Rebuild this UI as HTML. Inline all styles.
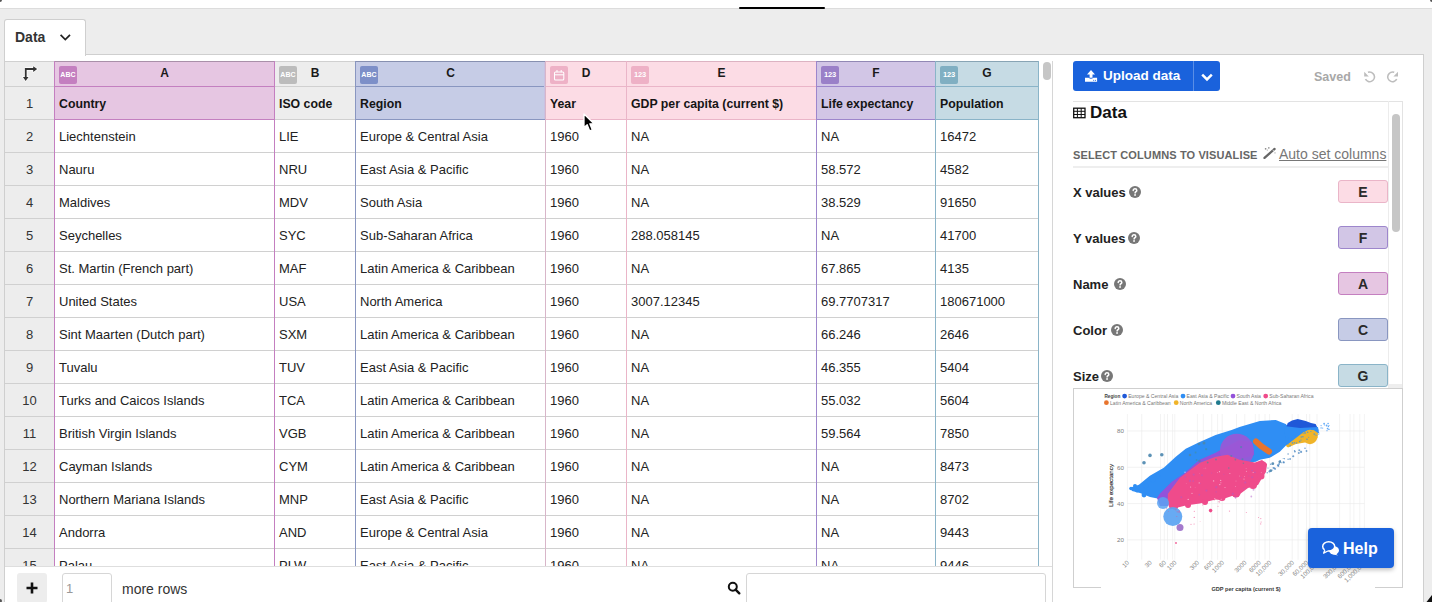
<!DOCTYPE html><html><head><meta charset="utf-8"><style>
html,body{margin:0;padding:0;}
body{width:1432px;height:602px;overflow:hidden;position:relative;background:#ededed;font-family:"Liberation Sans",sans-serif;}
.t{position:absolute;white-space:nowrap;}
.ic{position:absolute;width:18px;height:18px;border-radius:2px;color:#fff;font-size:7px;font-weight:700;text-align:center;line-height:18px;letter-spacing:0.1px;}
</style></head><body>
<div style="position:absolute;left:0px;top:0px;width:1432px;height:8px;background:#fff;"></div>
<div style="position:absolute;left:0px;top:8px;width:1432px;height:1px;background:#dcdcdc;"></div>
<div style="position:absolute;left:739px;top:7px;width:86px;height:2px;background:#000;border-radius:1px;"></div>
<div style="position:absolute;left:4px;top:54px;width:1420px;height:548px;background:#fff;box-sizing:border-box;border:1px solid #cfcfcf;border-bottom:none;"></div>
<div style="position:absolute;left:4px;top:19px;width:82px;height:37px;background:#fff;box-sizing:border-box;border:1px solid #cfcfcf;border-bottom:none;border-radius:3px 3px 0 0;"></div>
<div class="t" style="left:15px;top:19px;height:36px;line-height:36px;font-size:14px;font-weight:700;color:#333;">Data</div>
<svg style="position:absolute;left:58px;top:31px" width="14" height="12" viewBox="0 0 14 12"><path d="M2.6 3.8 L7.3 8.6 L12 3.8" fill="none" stroke="#222" stroke-width="1.7"/></svg>
<div style="position:absolute;left:5px;top:61px;width:49px;height:505px;background:#ededed;"></div>
<div style="position:absolute;left:54px;top:61px;width:220px;height:58px;background:#e6c6e2;"></div>
<div style="position:absolute;left:274px;top:61px;width:81px;height:58px;background:#ededed;"></div>
<div style="position:absolute;left:355px;top:61px;width:190px;height:58px;background:#c6cce6;"></div>
<div style="position:absolute;left:545px;top:61px;width:81px;height:58px;background:#fcdce5;"></div>
<div style="position:absolute;left:626px;top:61px;width:190px;height:58px;background:#fcdce5;"></div>
<div style="position:absolute;left:816px;top:61px;width:119px;height:58px;background:#d2c6e6;"></div>
<div style="position:absolute;left:935px;top:61px;width:103px;height:58px;background:#c6dbe4;"></div>
<div style="position:absolute;left:54px;top:119px;width:984px;height:447px;background:#fff;"></div>
<div style="position:absolute;left:5px;top:61px;width:1034px;height:1px;background:#d0d0d0;"></div>
<div style="position:absolute;left:5px;top:86px;width:1034px;height:1px;background:#d0d0d0;"></div>
<div style="position:absolute;left:5px;top:119px;width:1034px;height:1px;background:#d0d0d0;"></div>
<div style="position:absolute;left:5px;top:152px;width:1034px;height:1px;background:#d0d0d0;"></div>
<div style="position:absolute;left:5px;top:185px;width:1034px;height:1px;background:#d0d0d0;"></div>
<div style="position:absolute;left:5px;top:218px;width:1034px;height:1px;background:#d0d0d0;"></div>
<div style="position:absolute;left:5px;top:251px;width:1034px;height:1px;background:#d0d0d0;"></div>
<div style="position:absolute;left:5px;top:284px;width:1034px;height:1px;background:#d0d0d0;"></div>
<div style="position:absolute;left:5px;top:317px;width:1034px;height:1px;background:#d0d0d0;"></div>
<div style="position:absolute;left:5px;top:350px;width:1034px;height:1px;background:#d0d0d0;"></div>
<div style="position:absolute;left:5px;top:383px;width:1034px;height:1px;background:#d0d0d0;"></div>
<div style="position:absolute;left:5px;top:416px;width:1034px;height:1px;background:#d0d0d0;"></div>
<div style="position:absolute;left:5px;top:449px;width:1034px;height:1px;background:#d0d0d0;"></div>
<div style="position:absolute;left:5px;top:482px;width:1034px;height:1px;background:#d0d0d0;"></div>
<div style="position:absolute;left:5px;top:515px;width:1034px;height:1px;background:#d0d0d0;"></div>
<div style="position:absolute;left:5px;top:548px;width:1034px;height:1px;background:#d0d0d0;"></div>
<div style="position:absolute;left:54px;top:61px;width:221px;height:1px;background:#a990a9;"></div>
<div style="position:absolute;left:54px;top:86px;width:221px;height:1px;background:#c47fc0;"></div>
<div style="position:absolute;left:54px;top:119px;width:221px;height:1px;background:#c47fc0;"></div>
<div style="position:absolute;left:355px;top:61px;width:191px;height:1px;background:#8790b0;"></div>
<div style="position:absolute;left:355px;top:86px;width:191px;height:1px;background:#8996c0;"></div>
<div style="position:absolute;left:355px;top:119px;width:191px;height:1px;background:#8996c0;"></div>
<div style="position:absolute;left:545px;top:61px;width:82px;height:1px;background:#dcb3c2;"></div>
<div style="position:absolute;left:545px;top:86px;width:82px;height:1px;background:#eab5c8;"></div>
<div style="position:absolute;left:545px;top:119px;width:82px;height:1px;background:#eab5c8;"></div>
<div style="position:absolute;left:626px;top:61px;width:191px;height:1px;background:#dcb3c2;"></div>
<div style="position:absolute;left:626px;top:86px;width:191px;height:1px;background:#eab5c8;"></div>
<div style="position:absolute;left:626px;top:119px;width:191px;height:1px;background:#eab5c8;"></div>
<div style="position:absolute;left:816px;top:61px;width:120px;height:1px;background:#9188b4;"></div>
<div style="position:absolute;left:816px;top:86px;width:120px;height:1px;background:#9d86cc;"></div>
<div style="position:absolute;left:816px;top:119px;width:120px;height:1px;background:#9d86cc;"></div>
<div style="position:absolute;left:935px;top:61px;width:104px;height:1px;background:#88a4b4;"></div>
<div style="position:absolute;left:935px;top:86px;width:104px;height:1px;background:#8ab4c8;"></div>
<div style="position:absolute;left:935px;top:119px;width:104px;height:1px;background:#8ab4c8;"></div>
<div style="position:absolute;left:4px;top:61px;width:1px;height:505px;background:#cfcfcf;"></div>
<div style="position:absolute;left:54px;top:61px;width:1px;height:505px;background:#c47fc0;"></div>
<div style="position:absolute;left:274px;top:61px;width:1px;height:505px;background:#c47fc0;"></div>
<div style="position:absolute;left:355px;top:61px;width:1px;height:505px;background:#8996c0;"></div>
<div style="position:absolute;left:545px;top:61px;width:1px;height:505px;background:#d8b6c9;"></div>
<div style="position:absolute;left:626px;top:61px;width:1px;height:505px;background:#eab5c8;"></div>
<div style="position:absolute;left:816px;top:61px;width:1px;height:505px;background:#9d86cc;"></div>
<div style="position:absolute;left:935px;top:61px;width:1px;height:505px;background:#8ab4c8;"></div>
<div style="position:absolute;left:1038px;top:61px;width:1px;height:505px;background:#8ab4c8;"></div>
<div style="position:absolute;left:544px;top:62px;width:1px;height:57px;background:#c9c1e2;"></div>
<div class="t" style="left:55px;width:219px;top:61px;height:24px;line-height:24px;text-align:center;font-size:12px;font-weight:700;color:#1a1a1a;">A</div>
<div class="ic" style="left:59px;top:66px;background:#c47fc0;">ABC</div>
<div class="t" style="left:59px;top:88px;height:33px;line-height:33px;font-size:12.3px;font-weight:700;color:#151515;letter-spacing:0px;">Country</div>
<div class="t" style="left:275px;width:80px;top:61px;height:24px;line-height:24px;text-align:center;font-size:12px;font-weight:700;color:#1a1a1a;">B</div>
<div class="ic" style="left:279px;top:66px;background:#bcbcbc;">ABC</div>
<div class="t" style="left:279px;top:88px;height:33px;line-height:33px;font-size:12.3px;font-weight:700;color:#151515;letter-spacing:0px;">ISO code</div>
<div class="t" style="left:356px;width:189px;top:61px;height:24px;line-height:24px;text-align:center;font-size:12px;font-weight:700;color:#1a1a1a;">C</div>
<div class="ic" style="left:360px;top:66px;background:#7d8fc8;">ABC</div>
<div class="t" style="left:360px;top:88px;height:33px;line-height:33px;font-size:12.3px;font-weight:700;color:#151515;letter-spacing:0px;">Region</div>
<div class="t" style="left:546px;width:80px;top:61px;height:24px;line-height:24px;text-align:center;font-size:12px;font-weight:700;color:#1a1a1a;">D</div>
<div class="ic" style="left:550px;top:66px;background:#eeb1c6;"><svg width="18" height="18" viewBox="0 0 18 18" style="position:absolute;left:0;top:0"><rect x="4.5" y="5.9" width="9.3" height="8" rx="1" fill="none" stroke="#fff" stroke-width="1.05"/><line x1="4.5" y1="8.8" x2="13.8" y2="8.8" stroke="#fff" stroke-width="1.05"/><line x1="7" y1="4" x2="7" y2="6.2" stroke="#fff" stroke-width="1.05"/><line x1="11.2" y1="4" x2="11.2" y2="6.2" stroke="#fff" stroke-width="1.05"/></svg></div>
<div class="t" style="left:550px;top:88px;height:33px;line-height:33px;font-size:12.3px;font-weight:700;color:#151515;letter-spacing:0px;">Year</div>
<div class="t" style="left:627px;width:189px;top:61px;height:24px;line-height:24px;text-align:center;font-size:12px;font-weight:700;color:#1a1a1a;">E</div>
<div class="ic" style="left:631px;top:66px;background:#eeb1c6;font-size:7.5px;letter-spacing:-0.1px;">123</div>
<div class="t" style="left:631px;top:88px;height:33px;line-height:33px;font-size:12.3px;font-weight:700;color:#151515;letter-spacing:0px;">GDP per capita (current $)</div>
<div class="t" style="left:817px;width:118px;top:61px;height:24px;line-height:24px;text-align:center;font-size:12px;font-weight:700;color:#1a1a1a;">F</div>
<div class="ic" style="left:821px;top:66px;background:#9a80c8;font-size:7.5px;letter-spacing:-0.1px;">123</div>
<div class="t" style="left:821px;top:88px;height:33px;line-height:33px;font-size:12.3px;font-weight:700;color:#151515;letter-spacing:0px;">Life expectancy</div>
<div class="t" style="left:936px;width:102px;top:61px;height:24px;line-height:24px;text-align:center;font-size:12px;font-weight:700;color:#1a1a1a;">G</div>
<div class="ic" style="left:940px;top:66px;background:#80afc2;font-size:7.5px;letter-spacing:-0.1px;">123</div>
<div class="t" style="left:940px;top:88px;height:33px;line-height:33px;font-size:12.3px;font-weight:700;color:#151515;letter-spacing:0px;">Population</div>
<svg style="position:absolute;left:20px;top:63px" width="20" height="20" viewBox="0 0 20 20"><g stroke="#fff" stroke-width="1.6" stroke-linejoin="round" opacity="0.9"><path d="M5.75 15 V6 H14" fill="none" stroke-width="3.4"/><path d="M2.9 13.9 L5.7 17.9 L8.5 13.9 Z" fill="#fff"/><path d="M13.2 3.3 L17.2 6 L13.2 8.9 Z" fill="#fff"/></g><path d="M5.75 15 V6 H14" fill="none" stroke="#333" stroke-width="1.8"/><path d="M2.9 13.9 L5.7 17.9 L8.5 13.9 Z" fill="#333"/><path d="M13.2 3.3 L17.2 6 L13.2 8.9 Z" fill="#333"/></svg>
<div class="t" style="left:5px;top:87px;height:33px;line-height:33px;font-size:13px;font-weight:400;color:#333;width:49px;text-align:center;">1</div>
<div class="t" style="left:5px;top:120px;height:33px;line-height:33px;font-size:13px;font-weight:400;color:#333;width:49px;text-align:center;">2</div>
<div class="t" style="left:59px;top:120px;height:33px;line-height:33px;font-size:13px;font-weight:400;color:#222;">Liechtenstein</div>
<div class="t" style="left:279px;top:120px;height:33px;line-height:33px;font-size:13px;font-weight:400;color:#222;">LIE</div>
<div class="t" style="left:360px;top:120px;height:33px;line-height:33px;font-size:13px;font-weight:400;color:#222;">Europe &amp; Central Asia</div>
<div class="t" style="left:550px;top:120px;height:33px;line-height:33px;font-size:13px;font-weight:400;color:#222;">1960</div>
<div class="t" style="left:631px;top:120px;height:33px;line-height:33px;font-size:13px;font-weight:400;color:#222;">NA</div>
<div class="t" style="left:821px;top:120px;height:33px;line-height:33px;font-size:13px;font-weight:400;color:#222;">NA</div>
<div class="t" style="left:940px;top:120px;height:33px;line-height:33px;font-size:13px;font-weight:400;color:#222;">16472</div>
<div class="t" style="left:5px;top:153px;height:33px;line-height:33px;font-size:13px;font-weight:400;color:#333;width:49px;text-align:center;">3</div>
<div class="t" style="left:59px;top:153px;height:33px;line-height:33px;font-size:13px;font-weight:400;color:#222;">Nauru</div>
<div class="t" style="left:279px;top:153px;height:33px;line-height:33px;font-size:13px;font-weight:400;color:#222;">NRU</div>
<div class="t" style="left:360px;top:153px;height:33px;line-height:33px;font-size:13px;font-weight:400;color:#222;">East Asia &amp; Pacific</div>
<div class="t" style="left:550px;top:153px;height:33px;line-height:33px;font-size:13px;font-weight:400;color:#222;">1960</div>
<div class="t" style="left:631px;top:153px;height:33px;line-height:33px;font-size:13px;font-weight:400;color:#222;">NA</div>
<div class="t" style="left:821px;top:153px;height:33px;line-height:33px;font-size:13px;font-weight:400;color:#222;">58.572</div>
<div class="t" style="left:940px;top:153px;height:33px;line-height:33px;font-size:13px;font-weight:400;color:#222;">4582</div>
<div class="t" style="left:5px;top:186px;height:33px;line-height:33px;font-size:13px;font-weight:400;color:#333;width:49px;text-align:center;">4</div>
<div class="t" style="left:59px;top:186px;height:33px;line-height:33px;font-size:13px;font-weight:400;color:#222;">Maldives</div>
<div class="t" style="left:279px;top:186px;height:33px;line-height:33px;font-size:13px;font-weight:400;color:#222;">MDV</div>
<div class="t" style="left:360px;top:186px;height:33px;line-height:33px;font-size:13px;font-weight:400;color:#222;">South Asia</div>
<div class="t" style="left:550px;top:186px;height:33px;line-height:33px;font-size:13px;font-weight:400;color:#222;">1960</div>
<div class="t" style="left:631px;top:186px;height:33px;line-height:33px;font-size:13px;font-weight:400;color:#222;">NA</div>
<div class="t" style="left:821px;top:186px;height:33px;line-height:33px;font-size:13px;font-weight:400;color:#222;">38.529</div>
<div class="t" style="left:940px;top:186px;height:33px;line-height:33px;font-size:13px;font-weight:400;color:#222;">91650</div>
<div class="t" style="left:5px;top:219px;height:33px;line-height:33px;font-size:13px;font-weight:400;color:#333;width:49px;text-align:center;">5</div>
<div class="t" style="left:59px;top:219px;height:33px;line-height:33px;font-size:13px;font-weight:400;color:#222;">Seychelles</div>
<div class="t" style="left:279px;top:219px;height:33px;line-height:33px;font-size:13px;font-weight:400;color:#222;">SYC</div>
<div class="t" style="left:360px;top:219px;height:33px;line-height:33px;font-size:13px;font-weight:400;color:#222;">Sub-Saharan Africa</div>
<div class="t" style="left:550px;top:219px;height:33px;line-height:33px;font-size:13px;font-weight:400;color:#222;">1960</div>
<div class="t" style="left:631px;top:219px;height:33px;line-height:33px;font-size:13px;font-weight:400;color:#222;">288.058145</div>
<div class="t" style="left:821px;top:219px;height:33px;line-height:33px;font-size:13px;font-weight:400;color:#222;">NA</div>
<div class="t" style="left:940px;top:219px;height:33px;line-height:33px;font-size:13px;font-weight:400;color:#222;">41700</div>
<div class="t" style="left:5px;top:252px;height:33px;line-height:33px;font-size:13px;font-weight:400;color:#333;width:49px;text-align:center;">6</div>
<div class="t" style="left:59px;top:252px;height:33px;line-height:33px;font-size:13px;font-weight:400;color:#222;">St. Martin (French part)</div>
<div class="t" style="left:279px;top:252px;height:33px;line-height:33px;font-size:13px;font-weight:400;color:#222;">MAF</div>
<div class="t" style="left:360px;top:252px;height:33px;line-height:33px;font-size:13px;font-weight:400;color:#222;">Latin America &amp; Caribbean</div>
<div class="t" style="left:550px;top:252px;height:33px;line-height:33px;font-size:13px;font-weight:400;color:#222;">1960</div>
<div class="t" style="left:631px;top:252px;height:33px;line-height:33px;font-size:13px;font-weight:400;color:#222;">NA</div>
<div class="t" style="left:821px;top:252px;height:33px;line-height:33px;font-size:13px;font-weight:400;color:#222;">67.865</div>
<div class="t" style="left:940px;top:252px;height:33px;line-height:33px;font-size:13px;font-weight:400;color:#222;">4135</div>
<div class="t" style="left:5px;top:285px;height:33px;line-height:33px;font-size:13px;font-weight:400;color:#333;width:49px;text-align:center;">7</div>
<div class="t" style="left:59px;top:285px;height:33px;line-height:33px;font-size:13px;font-weight:400;color:#222;">United States</div>
<div class="t" style="left:279px;top:285px;height:33px;line-height:33px;font-size:13px;font-weight:400;color:#222;">USA</div>
<div class="t" style="left:360px;top:285px;height:33px;line-height:33px;font-size:13px;font-weight:400;color:#222;">North America</div>
<div class="t" style="left:550px;top:285px;height:33px;line-height:33px;font-size:13px;font-weight:400;color:#222;">1960</div>
<div class="t" style="left:631px;top:285px;height:33px;line-height:33px;font-size:13px;font-weight:400;color:#222;">3007.12345</div>
<div class="t" style="left:821px;top:285px;height:33px;line-height:33px;font-size:13px;font-weight:400;color:#222;">69.7707317</div>
<div class="t" style="left:940px;top:285px;height:33px;line-height:33px;font-size:13px;font-weight:400;color:#222;">180671000</div>
<div class="t" style="left:5px;top:318px;height:33px;line-height:33px;font-size:13px;font-weight:400;color:#333;width:49px;text-align:center;">8</div>
<div class="t" style="left:59px;top:318px;height:33px;line-height:33px;font-size:13px;font-weight:400;color:#222;">Sint Maarten (Dutch part)</div>
<div class="t" style="left:279px;top:318px;height:33px;line-height:33px;font-size:13px;font-weight:400;color:#222;">SXM</div>
<div class="t" style="left:360px;top:318px;height:33px;line-height:33px;font-size:13px;font-weight:400;color:#222;">Latin America &amp; Caribbean</div>
<div class="t" style="left:550px;top:318px;height:33px;line-height:33px;font-size:13px;font-weight:400;color:#222;">1960</div>
<div class="t" style="left:631px;top:318px;height:33px;line-height:33px;font-size:13px;font-weight:400;color:#222;">NA</div>
<div class="t" style="left:821px;top:318px;height:33px;line-height:33px;font-size:13px;font-weight:400;color:#222;">66.246</div>
<div class="t" style="left:940px;top:318px;height:33px;line-height:33px;font-size:13px;font-weight:400;color:#222;">2646</div>
<div class="t" style="left:5px;top:351px;height:33px;line-height:33px;font-size:13px;font-weight:400;color:#333;width:49px;text-align:center;">9</div>
<div class="t" style="left:59px;top:351px;height:33px;line-height:33px;font-size:13px;font-weight:400;color:#222;">Tuvalu</div>
<div class="t" style="left:279px;top:351px;height:33px;line-height:33px;font-size:13px;font-weight:400;color:#222;">TUV</div>
<div class="t" style="left:360px;top:351px;height:33px;line-height:33px;font-size:13px;font-weight:400;color:#222;">East Asia &amp; Pacific</div>
<div class="t" style="left:550px;top:351px;height:33px;line-height:33px;font-size:13px;font-weight:400;color:#222;">1960</div>
<div class="t" style="left:631px;top:351px;height:33px;line-height:33px;font-size:13px;font-weight:400;color:#222;">NA</div>
<div class="t" style="left:821px;top:351px;height:33px;line-height:33px;font-size:13px;font-weight:400;color:#222;">46.355</div>
<div class="t" style="left:940px;top:351px;height:33px;line-height:33px;font-size:13px;font-weight:400;color:#222;">5404</div>
<div class="t" style="left:5px;top:384px;height:33px;line-height:33px;font-size:13px;font-weight:400;color:#333;width:49px;text-align:center;">10</div>
<div class="t" style="left:59px;top:384px;height:33px;line-height:33px;font-size:13px;font-weight:400;color:#222;">Turks and Caicos Islands</div>
<div class="t" style="left:279px;top:384px;height:33px;line-height:33px;font-size:13px;font-weight:400;color:#222;">TCA</div>
<div class="t" style="left:360px;top:384px;height:33px;line-height:33px;font-size:13px;font-weight:400;color:#222;">Latin America &amp; Caribbean</div>
<div class="t" style="left:550px;top:384px;height:33px;line-height:33px;font-size:13px;font-weight:400;color:#222;">1960</div>
<div class="t" style="left:631px;top:384px;height:33px;line-height:33px;font-size:13px;font-weight:400;color:#222;">NA</div>
<div class="t" style="left:821px;top:384px;height:33px;line-height:33px;font-size:13px;font-weight:400;color:#222;">55.032</div>
<div class="t" style="left:940px;top:384px;height:33px;line-height:33px;font-size:13px;font-weight:400;color:#222;">5604</div>
<div class="t" style="left:5px;top:417px;height:33px;line-height:33px;font-size:13px;font-weight:400;color:#333;width:49px;text-align:center;">11</div>
<div class="t" style="left:59px;top:417px;height:33px;line-height:33px;font-size:13px;font-weight:400;color:#222;">British Virgin Islands</div>
<div class="t" style="left:279px;top:417px;height:33px;line-height:33px;font-size:13px;font-weight:400;color:#222;">VGB</div>
<div class="t" style="left:360px;top:417px;height:33px;line-height:33px;font-size:13px;font-weight:400;color:#222;">Latin America &amp; Caribbean</div>
<div class="t" style="left:550px;top:417px;height:33px;line-height:33px;font-size:13px;font-weight:400;color:#222;">1960</div>
<div class="t" style="left:631px;top:417px;height:33px;line-height:33px;font-size:13px;font-weight:400;color:#222;">NA</div>
<div class="t" style="left:821px;top:417px;height:33px;line-height:33px;font-size:13px;font-weight:400;color:#222;">59.564</div>
<div class="t" style="left:940px;top:417px;height:33px;line-height:33px;font-size:13px;font-weight:400;color:#222;">7850</div>
<div class="t" style="left:5px;top:450px;height:33px;line-height:33px;font-size:13px;font-weight:400;color:#333;width:49px;text-align:center;">12</div>
<div class="t" style="left:59px;top:450px;height:33px;line-height:33px;font-size:13px;font-weight:400;color:#222;">Cayman Islands</div>
<div class="t" style="left:279px;top:450px;height:33px;line-height:33px;font-size:13px;font-weight:400;color:#222;">CYM</div>
<div class="t" style="left:360px;top:450px;height:33px;line-height:33px;font-size:13px;font-weight:400;color:#222;">Latin America &amp; Caribbean</div>
<div class="t" style="left:550px;top:450px;height:33px;line-height:33px;font-size:13px;font-weight:400;color:#222;">1960</div>
<div class="t" style="left:631px;top:450px;height:33px;line-height:33px;font-size:13px;font-weight:400;color:#222;">NA</div>
<div class="t" style="left:821px;top:450px;height:33px;line-height:33px;font-size:13px;font-weight:400;color:#222;">NA</div>
<div class="t" style="left:940px;top:450px;height:33px;line-height:33px;font-size:13px;font-weight:400;color:#222;">8473</div>
<div class="t" style="left:5px;top:483px;height:33px;line-height:33px;font-size:13px;font-weight:400;color:#333;width:49px;text-align:center;">13</div>
<div class="t" style="left:59px;top:483px;height:33px;line-height:33px;font-size:13px;font-weight:400;color:#222;">Northern Mariana Islands</div>
<div class="t" style="left:279px;top:483px;height:33px;line-height:33px;font-size:13px;font-weight:400;color:#222;">MNP</div>
<div class="t" style="left:360px;top:483px;height:33px;line-height:33px;font-size:13px;font-weight:400;color:#222;">East Asia &amp; Pacific</div>
<div class="t" style="left:550px;top:483px;height:33px;line-height:33px;font-size:13px;font-weight:400;color:#222;">1960</div>
<div class="t" style="left:631px;top:483px;height:33px;line-height:33px;font-size:13px;font-weight:400;color:#222;">NA</div>
<div class="t" style="left:821px;top:483px;height:33px;line-height:33px;font-size:13px;font-weight:400;color:#222;">NA</div>
<div class="t" style="left:940px;top:483px;height:33px;line-height:33px;font-size:13px;font-weight:400;color:#222;">8702</div>
<div class="t" style="left:5px;top:516px;height:33px;line-height:33px;font-size:13px;font-weight:400;color:#333;width:49px;text-align:center;">14</div>
<div class="t" style="left:59px;top:516px;height:33px;line-height:33px;font-size:13px;font-weight:400;color:#222;">Andorra</div>
<div class="t" style="left:279px;top:516px;height:33px;line-height:33px;font-size:13px;font-weight:400;color:#222;">AND</div>
<div class="t" style="left:360px;top:516px;height:33px;line-height:33px;font-size:13px;font-weight:400;color:#222;">Europe &amp; Central Asia</div>
<div class="t" style="left:550px;top:516px;height:33px;line-height:33px;font-size:13px;font-weight:400;color:#222;">1960</div>
<div class="t" style="left:631px;top:516px;height:33px;line-height:33px;font-size:13px;font-weight:400;color:#222;">NA</div>
<div class="t" style="left:821px;top:516px;height:33px;line-height:33px;font-size:13px;font-weight:400;color:#222;">NA</div>
<div class="t" style="left:940px;top:516px;height:33px;line-height:33px;font-size:13px;font-weight:400;color:#222;">9443</div>
<div class="t" style="left:5px;top:549px;height:33px;line-height:33px;font-size:13px;font-weight:400;color:#333;width:49px;text-align:center;">15</div>
<div class="t" style="left:59px;top:549px;height:33px;line-height:33px;font-size:13px;font-weight:400;color:#222;">Palau</div>
<div class="t" style="left:279px;top:549px;height:33px;line-height:33px;font-size:13px;font-weight:400;color:#222;">PLW</div>
<div class="t" style="left:360px;top:549px;height:33px;line-height:33px;font-size:13px;font-weight:400;color:#222;">East Asia &amp; Pacific</div>
<div class="t" style="left:550px;top:549px;height:33px;line-height:33px;font-size:13px;font-weight:400;color:#222;">1960</div>
<div class="t" style="left:631px;top:549px;height:33px;line-height:33px;font-size:13px;font-weight:400;color:#222;">NA</div>
<div class="t" style="left:821px;top:549px;height:33px;line-height:33px;font-size:13px;font-weight:400;color:#222;">NA</div>
<div class="t" style="left:940px;top:549px;height:33px;line-height:33px;font-size:13px;font-weight:400;color:#222;">9446</div>
<div style="position:absolute;left:5px;top:566px;width:1047px;height:36px;background:#fff;"></div>
<div style="position:absolute;left:5px;top:566px;width:1047px;height:1px;background:#dedede;"></div>
<div style="position:absolute;left:17px;top:573px;width:30px;height:30px;background:#ededed;border-radius:3px;"></div>
<svg style="position:absolute;left:25px;top:581px" width="14" height="14" viewBox="0 0 14 14"><path d="M7 1.5 V12.5 M1.5 7 H12.5" stroke="#111" stroke-width="2.6"/></svg>
<div style="position:absolute;left:62px;top:573px;width:50px;height:32px;box-sizing:border-box;border:1px solid #d6d6d6;border-radius:3px;background:#fff;"></div>
<div class="t" style="left:66px;top:574px;height:30px;line-height:30px;font-size:13px;font-weight:400;color:#999;">1</div>
<div class="t" style="left:122px;top:574px;height:30px;line-height:30px;font-size:14px;font-weight:400;color:#333;">more rows</div>
<svg style="position:absolute;left:727px;top:581px" width="14" height="14" viewBox="0 0 14 14"><circle cx="5.8" cy="5.8" r="4" fill="none" stroke="#111" stroke-width="2"/><path d="M8.6 8.6 L12.3 12.3" stroke="#111" stroke-width="2.4" stroke-linecap="round"/></svg>
<div style="position:absolute;left:746px;top:573px;width:300px;height:32px;box-sizing:border-box;border:1px solid #d6d6d6;border-radius:3px;background:#fff;"></div>
<div style="position:absolute;left:1052px;top:61px;width:1px;height:541px;background:#d6d6d6;"></div>
<div style="position:absolute;left:1043px;top:62px;width:8px;height:18px;background:#c6c6c6;border-radius:4px;"></div>
<div style="position:absolute;left:1073px;top:61px;width:147px;height:30px;background:#1a62dc;border-radius:3px;"></div>
<div style="position:absolute;left:1193px;top:61px;width:1px;height:30px;background:#5a8ee6;"></div>
<svg style="position:absolute;left:1084px;top:69px" width="14" height="14" viewBox="0 0 14 14"><path d="M7 1 L3 5.4 H5.6 V8.7 H8.5 V5.4 H11 Z" fill="#fff"/><path d="M1 8.8 H4.6 Q7 10.6 9.4 8.8 H13.1 V12.8 H1 Z" fill="#fff"/><circle cx="9.7" cy="11.3" r="0.55" fill="#1a62dc"/><circle cx="11.5" cy="11.3" r="0.55" fill="#1a62dc"/></svg>
<div class="t" style="left:1103px;top:61px;height:30px;line-height:30px;font-size:13.5px;font-weight:700;color:#fff;">Upload data</div>
<svg style="position:absolute;left:1200px;top:71px" width="14" height="12" viewBox="0 0 14 12"><path d="M2.2 3.6 L7 8.4 L11.8 3.6" fill="none" stroke="#fff" stroke-width="2.5"/></svg>
<div class="t" style="left:1314px;top:62px;height:30px;line-height:30px;font-size:12.5px;font-weight:700;color:#a8a8a8;">Saved</div>
<svg style="position:absolute;left:1362px;top:69px" width="16" height="16" viewBox="0 0 16 16"><path d="M5.96 3.29 A4.8 4.8 0 1 1 3.44 10.2" fill="none" stroke="#bdbdbd" stroke-width="1.6"/><path d="M2.2 2.8 V7.4 H6.8 Z" fill="#bdbdbd"/></svg>
<svg style="position:absolute;left:1385px;top:69px" width="16" height="16" viewBox="0 0 16 16"><path d="M9.24 3.29 A4.8 4.8 0 1 0 11.76 10.2" fill="none" stroke="#bdbdbd" stroke-width="1.6"/><path d="M13 2.8 V7.4 H8.4 Z" fill="#bdbdbd"/></svg>
<div style="position:absolute;left:1073px;top:101px;width:330px;height:1px;background:#e3e3e3;"></div>
<div style="position:absolute;left:1402px;top:101px;width:1px;height:287px;background:#e3e3e3;"></div>
<div style="position:absolute;left:1388px;top:101px;width:1px;height:287px;background:#ececec;"></div>
<div style="position:absolute;left:1392px;top:114px;width:8px;height:118px;background:#c6c6c6;border-radius:4px;"></div>
<div style="position:absolute;left:1389px;top:384px;width:13px;height:4px;background:#eeeeee;"></div>
<svg style="position:absolute;left:1073px;top:107px" width="13" height="12" viewBox="0 0 13 12"><rect x="0.7" y="1.2" width="11.3" height="9.5" fill="none" stroke="#111" stroke-width="1.3"/><path d="M0.7 4.3 H12 M0.7 7.5 H12 M4.4 1.2 V10.7 M8.2 1.2 V10.7" stroke="#111" stroke-width="1"/></svg>
<div class="t" style="left:1090px;top:101px;height:24px;line-height:24px;font-size:17px;font-weight:700;color:#111;">Data</div>
<div class="t" style="left:1073px;top:144px;height:22px;line-height:22px;font-size:11px;font-weight:700;color:#666;letter-spacing:0.12px;">SELECT COLUMNS TO VISUALISE</div>
<svg style="position:absolute;left:1262px;top:145px" width="16" height="16" viewBox="0 0 16 16"><path d="M2.5 12.9 L12.6 3.9" stroke="#666" stroke-width="2.3" stroke-linecap="round"/><path d="M10.4 4.6 L11.9 6.1" stroke="#fff" stroke-width="0.7"/><path d="M3.6 3 V4.6 M2.8 3.8 H4.4 M6.8 2.2 V3.6 M6.1 2.9 H7.5 M5.3 4.6 V5.6 M13 7.3 V8.5" stroke="#777" stroke-width="0.7"/></svg>
<div class="t" style="left:1279px;top:143px;height:22px;line-height:22px;font-size:14px;font-weight:400;color:#777;"><span style="text-decoration:underline;">Auto set columns</span></div>
<div style="position:absolute;left:1073px;top:166px;width:315px;height:2px;background:#eeeeee;"></div>
<div class="t" style="left:1073px;top:181px;height:23px;line-height:23px;font-size:13px;font-weight:700;color:#222;">X values</div>
<div style="position:absolute;left:1128.5px;top:185.5px;width:12px;height:12px;border-radius:6px;background:#777;"></div>
<svg style="position:absolute;left:1128.5px;top:185.5px" width="12" height="12" viewBox="0 0 12 12"><path d="M4.2 4.6 C4.2 3.4 5 2.8 6 2.8 C7 2.8 7.8 3.4 7.8 4.4 C7.8 5.5 6.3 5.7 6.1 6.9" fill="none" stroke="#fff" stroke-width="1.5" stroke-linecap="round"/><circle cx="6.05" cy="9" r="0.9" fill="#fff"/></svg>
<div style="position:absolute;left:1338px;top:180px;width:50px;height:23px;box-sizing:border-box;border:1px solid #eab5c8;border-radius:3px;background:#fcdce5;text-align:center;line-height:22px;font-size:14px;font-weight:700;color:#2a2a2a;">E</div>
<div class="t" style="left:1073px;top:227px;height:23px;line-height:23px;font-size:13px;font-weight:700;color:#222;">Y values</div>
<div style="position:absolute;left:1128.4px;top:231.5px;width:12px;height:12px;border-radius:6px;background:#777;"></div>
<svg style="position:absolute;left:1128.4px;top:231.5px" width="12" height="12" viewBox="0 0 12 12"><path d="M4.2 4.6 C4.2 3.4 5 2.8 6 2.8 C7 2.8 7.8 3.4 7.8 4.4 C7.8 5.5 6.3 5.7 6.1 6.9" fill="none" stroke="#fff" stroke-width="1.5" stroke-linecap="round"/><circle cx="6.05" cy="9" r="0.9" fill="#fff"/></svg>
<div style="position:absolute;left:1338px;top:226px;width:50px;height:23px;box-sizing:border-box;border:1px solid #9d86cc;border-radius:3px;background:#d2c6e6;text-align:center;line-height:22px;font-size:14px;font-weight:700;color:#2a2a2a;">F</div>
<div class="t" style="left:1073px;top:273px;height:23px;line-height:23px;font-size:13px;font-weight:700;color:#222;">Name</div>
<div style="position:absolute;left:1113.5px;top:277.5px;width:12px;height:12px;border-radius:6px;background:#777;"></div>
<svg style="position:absolute;left:1113.5px;top:277.5px" width="12" height="12" viewBox="0 0 12 12"><path d="M4.2 4.6 C4.2 3.4 5 2.8 6 2.8 C7 2.8 7.8 3.4 7.8 4.4 C7.8 5.5 6.3 5.7 6.1 6.9" fill="none" stroke="#fff" stroke-width="1.5" stroke-linecap="round"/><circle cx="6.05" cy="9" r="0.9" fill="#fff"/></svg>
<div style="position:absolute;left:1338px;top:272px;width:50px;height:23px;box-sizing:border-box;border:1px solid #c47fc0;border-radius:3px;background:#e6c6e2;text-align:center;line-height:22px;font-size:14px;font-weight:700;color:#2a2a2a;">A</div>
<div class="t" style="left:1073px;top:319px;height:23px;line-height:23px;font-size:13px;font-weight:700;color:#222;">Color</div>
<div style="position:absolute;left:1110.8px;top:323.5px;width:12px;height:12px;border-radius:6px;background:#777;"></div>
<svg style="position:absolute;left:1110.8px;top:323.5px" width="12" height="12" viewBox="0 0 12 12"><path d="M4.2 4.6 C4.2 3.4 5 2.8 6 2.8 C7 2.8 7.8 3.4 7.8 4.4 C7.8 5.5 6.3 5.7 6.1 6.9" fill="none" stroke="#fff" stroke-width="1.5" stroke-linecap="round"/><circle cx="6.05" cy="9" r="0.9" fill="#fff"/></svg>
<div style="position:absolute;left:1338px;top:318px;width:50px;height:23px;box-sizing:border-box;border:1px solid #8996c0;border-radius:3px;background:#c6cce6;text-align:center;line-height:22px;font-size:14px;font-weight:700;color:#2a2a2a;">C</div>
<div class="t" style="left:1073px;top:365px;height:23px;line-height:23px;font-size:13px;font-weight:700;color:#222;">Size</div>
<div style="position:absolute;left:1101.3px;top:369.5px;width:12px;height:12px;border-radius:6px;background:#777;"></div>
<svg style="position:absolute;left:1101.3px;top:369.5px" width="12" height="12" viewBox="0 0 12 12"><path d="M4.2 4.6 C4.2 3.4 5 2.8 6 2.8 C7 2.8 7.8 3.4 7.8 4.4 C7.8 5.5 6.3 5.7 6.1 6.9" fill="none" stroke="#fff" stroke-width="1.5" stroke-linecap="round"/><circle cx="6.05" cy="9" r="0.9" fill="#fff"/></svg>
<div style="position:absolute;left:1338px;top:364px;width:50px;height:23px;box-sizing:border-box;border:1px solid #8ab4c8;border-radius:3px;background:#c6dbe4;text-align:center;line-height:22px;font-size:14px;font-weight:700;color:#2a2a2a;">G</div>
<div style="position:absolute;left:1073px;top:388px;width:330px;height:200px;box-sizing:border-box;border:1px solid #cfcfcf;background:#fff;overflow:visible;"><svg style="position:absolute;left:-1px;top:-1px" width="330" height="215" viewBox="1073 388 330 215">
<g font-family="Liberation Sans, sans-serif">
<rect x="1101" y="575" width="274" height="30" fill="#fff"/>
<line x1="1127" y1="539.9" x2="1364.5" y2="539.9" stroke="#ececec" stroke-width="0.7"/>
<text x="1124" y="542.1" font-size="6.2" fill="#7d7d7d" text-anchor="end">20</text>
<line x1="1127" y1="503.6" x2="1364.5" y2="503.6" stroke="#ececec" stroke-width="0.7"/>
<text x="1124" y="505.8" font-size="6.2" fill="#7d7d7d" text-anchor="end">40</text>
<line x1="1127" y1="467.3" x2="1364.5" y2="467.3" stroke="#ececec" stroke-width="0.7"/>
<text x="1124" y="469.5" font-size="6.2" fill="#7d7d7d" text-anchor="end">60</text>
<line x1="1127" y1="431.0" x2="1364.5" y2="431.0" stroke="#ececec" stroke-width="0.7"/>
<text x="1124" y="433.2" font-size="6.2" fill="#7d7d7d" text-anchor="end">80</text>
<line x1="1127.4" y1="414" x2="1127.4" y2="559.7" stroke="#ebebeb" stroke-width="0.6"/>
<line x1="1141.7" y1="414" x2="1141.7" y2="559.7" stroke="#ebebeb" stroke-width="0.6"/>
<line x1="1160.5" y1="414" x2="1160.5" y2="559.7" stroke="#ebebeb" stroke-width="0.6"/>
<line x1="1164.3" y1="414" x2="1164.3" y2="559.7" stroke="#ebebeb" stroke-width="0.6"/>
<line x1="1167.5" y1="414" x2="1167.5" y2="559.7" stroke="#ebebeb" stroke-width="0.6"/>
<line x1="1172.6" y1="414" x2="1172.6" y2="559.7" stroke="#ebebeb" stroke-width="0.6"/>
<line x1="1174.8" y1="414" x2="1174.8" y2="559.7" stroke="#ebebeb" stroke-width="0.6"/>
<line x1="1197.4" y1="414" x2="1197.4" y2="559.7" stroke="#ebebeb" stroke-width="0.6"/>
<line x1="1203.3" y1="414" x2="1203.3" y2="559.7" stroke="#ebebeb" stroke-width="0.6"/>
<line x1="1211.7" y1="414" x2="1211.7" y2="559.7" stroke="#ebebeb" stroke-width="0.6"/>
<line x1="1217.6" y1="414" x2="1217.6" y2="559.7" stroke="#ebebeb" stroke-width="0.6"/>
<line x1="1222.2" y1="414" x2="1222.2" y2="559.7" stroke="#ebebeb" stroke-width="0.6"/>
<line x1="1236.5" y1="414" x2="1236.5" y2="559.7" stroke="#ebebeb" stroke-width="0.6"/>
<line x1="1244.8" y1="414" x2="1244.8" y2="559.7" stroke="#ebebeb" stroke-width="0.6"/>
<line x1="1255.3" y1="414" x2="1255.3" y2="559.7" stroke="#ebebeb" stroke-width="0.6"/>
<line x1="1259.1" y1="414" x2="1259.1" y2="559.7" stroke="#ebebeb" stroke-width="0.6"/>
<line x1="1265.0" y1="414" x2="1265.0" y2="559.7" stroke="#ebebeb" stroke-width="0.6"/>
<line x1="1269.6" y1="414" x2="1269.6" y2="559.7" stroke="#ebebeb" stroke-width="0.6"/>
<line x1="1292.2" y1="414" x2="1292.2" y2="559.7" stroke="#ebebeb" stroke-width="0.6"/>
<line x1="1298.1" y1="414" x2="1298.1" y2="559.7" stroke="#ebebeb" stroke-width="0.6"/>
<line x1="1306.5" y1="414" x2="1306.5" y2="559.7" stroke="#ebebeb" stroke-width="0.6"/>
<line x1="1309.7" y1="414" x2="1309.7" y2="559.7" stroke="#ebebeb" stroke-width="0.6"/>
<line x1="1317.0" y1="414" x2="1317.0" y2="559.7" stroke="#ebebeb" stroke-width="0.6"/>
<line x1="1339.6" y1="414" x2="1339.6" y2="559.7" stroke="#ebebeb" stroke-width="0.6"/>
<line x1="1350.1" y1="414" x2="1350.1" y2="559.7" stroke="#ebebeb" stroke-width="0.6"/>
<line x1="1353.9" y1="414" x2="1353.9" y2="559.7" stroke="#ebebeb" stroke-width="0.6"/>
<line x1="1359.8" y1="414" x2="1359.8" y2="559.7" stroke="#ebebeb" stroke-width="0.6"/>
<line x1="1364.4" y1="414" x2="1364.4" y2="559.7" stroke="#ebebeb" stroke-width="0.6"/>
<text transform="translate(1129.6 563) rotate(-45)" font-size="6.3" fill="#7d7d7d" text-anchor="end">10</text>
<text transform="translate(1152.2 563) rotate(-45)" font-size="6.3" fill="#7d7d7d" text-anchor="end">30</text>
<text transform="translate(1166.5 563) rotate(-45)" font-size="6.3" fill="#7d7d7d" text-anchor="end">60</text>
<text transform="translate(1177.0 563) rotate(-45)" font-size="6.3" fill="#7d7d7d" text-anchor="end">100</text>
<text transform="translate(1199.6 563) rotate(-45)" font-size="6.3" fill="#7d7d7d" text-anchor="end">300</text>
<text transform="translate(1213.9 563) rotate(-45)" font-size="6.3" fill="#7d7d7d" text-anchor="end">600</text>
<text transform="translate(1224.4 563) rotate(-45)" font-size="6.3" fill="#7d7d7d" text-anchor="end">1000</text>
<text transform="translate(1247.0 563) rotate(-45)" font-size="6.3" fill="#7d7d7d" text-anchor="end">3000</text>
<text transform="translate(1261.3 563) rotate(-45)" font-size="6.3" fill="#7d7d7d" text-anchor="end">6000</text>
<text transform="translate(1271.8 563) rotate(-45)" font-size="6.3" fill="#7d7d7d" text-anchor="end">10,000</text>
<text transform="translate(1294.4 563) rotate(-45)" font-size="6.3" fill="#7d7d7d" text-anchor="end">30,000</text>
<text transform="translate(1308.7 563) rotate(-45)" font-size="6.3" fill="#7d7d7d" text-anchor="end">60,000</text>
<text transform="translate(1319.2 563) rotate(-45)" font-size="6.3" fill="#7d7d7d" text-anchor="end">100,000</text>
<text transform="translate(1341.8 563) rotate(-45)" font-size="6.3" fill="#7d7d7d" text-anchor="end">300,000</text>
<text transform="translate(1356.1 563) rotate(-45)" font-size="6.3" fill="#7d7d7d" text-anchor="end">600,000</text>
<text transform="translate(1366.6 563) rotate(-45)" font-size="6.3" fill="#7d7d7d" text-anchor="end">1,000,000</text>
<text x="1246" y="591.3" font-size="5.6" font-weight="700" fill="#3a3a3a" text-anchor="middle">GDP per capita (current $)</text>
<text transform="translate(1113 485.5) rotate(-90)" font-size="6.2" font-weight="400" fill="#333" stroke="#333" stroke-width="0.15" text-anchor="middle">Life expectancy</text>
<text x="1104.4" y="397.9" font-size="4.7" font-weight="700" fill="#444">Region</text>
<circle cx="1124.6" cy="396.1" r="2.4" fill="#1f58d8"/>
<text x="1128.1999999999998" y="397.90000000000003" font-size="5.1" fill="#777">Europe &amp; Central Asia</text>
<circle cx="1183" cy="396.1" r="2.4" fill="#2f8ef4"/>
<text x="1186.6" y="397.90000000000003" font-size="5.1" fill="#777">East Asia &amp; Pacific</text>
<circle cx="1233" cy="396.1" r="2.4" fill="#9352da"/>
<text x="1236.6" y="397.90000000000003" font-size="5.1" fill="#777">South Asia</text>
<circle cx="1265.7" cy="396.1" r="2.4" fill="#ef4b8b"/>
<text x="1269.3" y="397.90000000000003" font-size="5.1" fill="#777">Sub-Saharan Africa</text>
<circle cx="1106.4" cy="402.7" r="2.4" fill="#e8742d"/>
<text x="1110.0" y="404.5" font-size="5.1" fill="#777">Latin America &amp; Caribbean</text>
<circle cx="1176.2" cy="402.7" r="2.4" fill="#f0b429"/>
<text x="1179.8" y="404.5" font-size="5.1" fill="#777">North America</text>
<circle cx="1218.3" cy="402.7" r="2.4" fill="#1f7a8e"/>
<text x="1221.8999999999999" y="404.5" font-size="5.1" fill="#777">Middle East &amp; North Africa</text>
<path d="M1130.0 487.7 L1138.9 484.7 L1149.9 475.7 L1163.8 467.8 L1175.8 456.8 L1185.7 448.8 L1199.7 441.9 L1215.6 434.9 L1231.6 429.9 L1239.5 427.0 L1259.8 421.0 L1275.8 419.9 L1285.7 423.9 L1292.0 430.0 L1296.0 438.0 L1290.0 444.0 L1285.7 445.8 L1279.8 451.8 L1269.8 457.8 L1259.8 459.8 L1255.8 461.8 L1245.0 463.0 L1220.0 470.0 L1200.0 480.0 L1180.0 492.0 L1165.0 500.0 L1150.0 497.0 L1140.0 493.0 L1132.0 491.0 Z" fill="#2f8ef4" fill-opacity="1"/>
<path d="M1287.7 422.9 L1292.0 420.5 L1297.7 418.9 L1305.7 420.9 L1311.0 423.0 L1315.6 423.9 L1317.6 427.9 L1312.0 430.0 L1305.0 430.5 L1296.0 432.0 L1289.0 433.0 L1286.0 428.0 Z" fill="#1f58d8" fill-opacity="1"/>
<path d="M1284.0 426.0 L1300.0 428.0 L1318.0 427.0 L1319.0 433.0 L1305.0 436.0 L1292.0 442.0 L1286.0 444.0 Z" fill="#2f8ef4" fill-opacity="1"/>
<path d="M1285.7 445.8 L1292.0 441.0 L1303.7 431.9 L1313.6 429.9 L1318.0 433.0 L1317.6 438.0 L1313.6 441.8 L1305.0 442.5 L1296.0 444.0 L1288.0 447.5 Z" fill="#f0b429" fill-opacity="1"/>
<circle cx="1310.0" cy="437.0" r="7.2" fill="#f0b429" fill-opacity="1"/>
<path d="M1157.0 498.0 L1159.8 493.7 L1171.8 481.7 L1183.7 473.7 L1199.7 459.8 L1215.6 452.8 L1231.6 443.9 L1239.5 439.9 L1252.0 442.0 L1254.0 455.0 L1239.5 459.8 L1227.6 454.8 L1215.6 456.8 L1199.7 462.8 L1179.8 477.7 L1167.8 493.7 L1168.0 506.0 L1160.0 506.0 Z" fill="#9352da" fill-opacity="1"/>
<circle cx="1236.9" cy="450.8" r="17.0" fill="#9a58d6" fill-opacity="0.92"/>
<path d="M1167.8 503.6 L1167.8 493.7 L1179.8 477.7 L1199.7 462.8 L1215.6 456.8 L1227.6 454.8 L1239.5 459.8 L1255.0 462.5 L1262.0 460.0 L1267.0 464.0 L1266.0 472.0 L1262.0 478.0 L1258.0 485.0 L1248.0 488.0 L1240.0 494.0 L1232.0 496.0 L1220.0 500.0 L1215.6 499.6 L1199.7 503.6 L1185.7 505.6 L1170.0 509.6 Z" fill="#ef4b8b" fill-opacity="1"/>
<circle cx="1263.0" cy="465.0" r="3.5" fill="#ef4b8b" fill-opacity="1"/>
<circle cx="1261.0" cy="476.0" r="3.5" fill="#ef4b8b" fill-opacity="1"/>
<circle cx="1253.0" cy="485.0" r="4.0" fill="#ef4b8b" fill-opacity="1"/>
<circle cx="1236.0" cy="493.0" r="4.5" fill="#ef4b8b" fill-opacity="1"/>
<circle cx="1222.0" cy="497.5" r="3.5" fill="#ef4b8b" fill-opacity="1"/>
<circle cx="1205.0" cy="502.0" r="3.0" fill="#ef4b8b" fill-opacity="1"/>
<circle cx="1188.0" cy="505.0" r="3.0" fill="#ef4b8b" fill-opacity="1"/>
<circle cx="1175.0" cy="507.0" r="3.0" fill="#ef4b8b" fill-opacity="1"/>
<circle cx="1210.6" cy="510.6" r="1.8" fill="#ef4b8b" fill-opacity="1"/>
<path d="M1256 441.5 L1261 446 L1269 451.5" stroke="#e8742d" stroke-width="6" stroke-linecap="round" stroke-linejoin="round"/>
<circle cx="1219.8" cy="484.6" r="0.7" fill="#ffffff" fill-opacity="0.55"/>
<circle cx="1220.9" cy="482.8" r="0.5" fill="#ffffff" fill-opacity="0.55"/>
<circle cx="1199.2" cy="482.9" r="0.6" fill="#ffffff" fill-opacity="0.55"/>
<circle cx="1246.1" cy="468.3" r="0.4" fill="#ffffff" fill-opacity="0.55"/>
<circle cx="1192.0" cy="493.3" r="0.6" fill="#ffffff" fill-opacity="0.55"/>
<circle cx="1188.2" cy="499.4" r="0.7" fill="#ffffff" fill-opacity="0.55"/>
<circle cx="1235.4" cy="486.5" r="0.4" fill="#ffffff" fill-opacity="0.55"/>
<circle cx="1186.2" cy="483.5" r="0.3" fill="#ffffff" fill-opacity="0.55"/>
<circle cx="1199.6" cy="473.5" r="0.3" fill="#ffffff" fill-opacity="0.55"/>
<circle cx="1220.7" cy="480.4" r="0.6" fill="#ffffff" fill-opacity="0.55"/>
<circle cx="1225.0" cy="487.4" r="0.5" fill="#ffffff" fill-opacity="0.55"/>
<circle cx="1236.0" cy="481.0" r="0.4" fill="#ffffff" fill-opacity="0.55"/>
<circle cx="1261.8" cy="499.8" r="0.6" fill="#ffffff" fill-opacity="0.55"/>
<circle cx="1239.5" cy="476.0" r="0.4" fill="#ffffff" fill-opacity="0.55"/>
<circle cx="1244.0" cy="479.0" r="0.6" fill="#ffffff" fill-opacity="0.55"/>
<circle cx="1214.8" cy="498.5" r="0.6" fill="#ffffff" fill-opacity="0.55"/>
<circle cx="1185.0" cy="472.3" r="0.7" fill="#ffffff" fill-opacity="0.55"/>
<circle cx="1221.2" cy="499.3" r="0.5" fill="#ffffff" fill-opacity="0.55"/>
<circle cx="1190.6" cy="487.0" r="0.6" fill="#ffffff" fill-opacity="0.55"/>
<circle cx="1205.8" cy="468.1" r="0.4" fill="#ffffff" fill-opacity="0.55"/>
<circle cx="1259.2" cy="491.5" r="0.3" fill="#ffffff" fill-opacity="0.55"/>
<circle cx="1204.0" cy="468.5" r="0.3" fill="#ffffff" fill-opacity="0.55"/>
<circle cx="1246.4" cy="471.2" r="0.5" fill="#ffffff" fill-opacity="0.55"/>
<circle cx="1219.5" cy="471.7" r="0.6" fill="#ffffff" fill-opacity="0.55"/>
<circle cx="1195.1" cy="487.5" r="0.3" fill="#ffffff" fill-opacity="0.55"/>
<circle cx="1217.4" cy="472.5" r="0.4" fill="#ffffff" fill-opacity="0.55"/>
<circle cx="1259.8" cy="493.1" r="0.4" fill="#ffffff" fill-opacity="0.55"/>
<circle cx="1253.1" cy="472.4" r="0.5" fill="#ffffff" fill-opacity="0.55"/>
<circle cx="1250.8" cy="487.5" r="0.3" fill="#ffffff" fill-opacity="0.55"/>
<circle cx="1261.2" cy="472.5" r="0.4" fill="#ffffff" fill-opacity="0.55"/>
<circle cx="1244.5" cy="476.5" r="0.4" fill="#ffffff" fill-opacity="0.55"/>
<circle cx="1229.9" cy="473.5" r="0.5" fill="#ffffff" fill-opacity="0.55"/>
<circle cx="1213.6" cy="480.9" r="0.7" fill="#ffffff" fill-opacity="0.55"/>
<circle cx="1216.3" cy="487.2" r="1.1" fill="#b05cc8" fill-opacity="0.5"/>
<circle cx="1193.7" cy="474.6" r="1.1" fill="#b05cc8" fill-opacity="0.5"/>
<circle cx="1241.3" cy="477.5" r="0.6" fill="#b05cc8" fill-opacity="0.5"/>
<circle cx="1235.5" cy="498.2" r="0.6" fill="#b05cc8" fill-opacity="0.5"/>
<circle cx="1251.3" cy="496.5" r="0.9" fill="#b05cc8" fill-opacity="0.5"/>
<circle cx="1211.6" cy="473.1" r="0.5" fill="#b05cc8" fill-opacity="0.5"/>
<circle cx="1252.2" cy="477.2" r="1.0" fill="#b05cc8" fill-opacity="0.5"/>
<circle cx="1199.3" cy="494.7" r="0.9" fill="#b05cc8" fill-opacity="0.5"/>
<circle cx="1202.0" cy="475.3" r="1.0" fill="#b05cc8" fill-opacity="0.5"/>
<circle cx="1185.2" cy="476.9" r="0.9" fill="#b05cc8" fill-opacity="0.5"/>
<circle cx="1243.9" cy="488.4" r="0.7" fill="#b05cc8" fill-opacity="0.5"/>
<circle cx="1248.8" cy="476.1" r="0.5" fill="#b05cc8" fill-opacity="0.5"/>
<circle cx="1200.2" cy="483.4" r="0.5" fill="#b05cc8" fill-opacity="0.5"/>
<circle cx="1193.2" cy="481.1" r="0.9" fill="#b05cc8" fill-opacity="0.5"/>
<circle cx="1189.9" cy="480.9" r="1.1" fill="#b05cc8" fill-opacity="0.5"/>
<circle cx="1253.5" cy="489.7" r="1.0" fill="#b05cc8" fill-opacity="0.5"/>
<circle cx="1223.8" cy="474.2" r="0.5" fill="#b05cc8" fill-opacity="0.5"/>
<circle cx="1181.3" cy="497.3" r="1.0" fill="#b05cc8" fill-opacity="0.5"/>
<circle cx="1252.2" cy="470.6" r="0.9" fill="#b05cc8" fill-opacity="0.5"/>
<circle cx="1216.2" cy="491.9" r="0.7" fill="#b05cc8" fill-opacity="0.5"/>
<circle cx="1255.0" cy="472.3" r="0.9" fill="#b05cc8" fill-opacity="0.5"/>
<circle cx="1235.3" cy="497.0" r="1.0" fill="#b05cc8" fill-opacity="0.5"/>
<circle cx="1232.8" cy="493.8" r="1.1" fill="#b05cc8" fill-opacity="0.5"/>
<circle cx="1206.4" cy="490.6" r="1.1" fill="#b05cc8" fill-opacity="0.5"/>
<circle cx="1245.3" cy="482.5" r="1.1" fill="#b05cc8" fill-opacity="0.5"/>
<circle cx="1242.5" cy="459.3" r="1.0" fill="#3f8fa0" fill-opacity="0.6"/>
<circle cx="1216.0" cy="459.6" r="1.0" fill="#3f8fa0" fill-opacity="0.6"/>
<circle cx="1199.4" cy="461.0" r="1.2" fill="#3f8fa0" fill-opacity="0.6"/>
<circle cx="1243.4" cy="463.2" r="0.8" fill="#3f8fa0" fill-opacity="0.6"/>
<circle cx="1235.4" cy="459.5" r="0.9" fill="#3f8fa0" fill-opacity="0.6"/>
<circle cx="1241.1" cy="447.1" r="1.1" fill="#3f8fa0" fill-opacity="0.6"/>
<circle cx="1196.6" cy="460.0" r="0.9" fill="#3f8fa0" fill-opacity="0.6"/>
<circle cx="1207.7" cy="462.5" r="0.9" fill="#3f8fa0" fill-opacity="0.6"/>
<circle cx="1228.8" cy="468.0" r="0.8" fill="#3f8fa0" fill-opacity="0.6"/>
<circle cx="1195.6" cy="452.5" r="1.0" fill="#3f8fa0" fill-opacity="0.6"/>
<circle cx="1206.1" cy="449.2" r="1.1" fill="#3f8fa0" fill-opacity="0.6"/>
<circle cx="1231.3" cy="456.0" r="1.1" fill="#3f8fa0" fill-opacity="0.6"/>
<circle cx="1172.8" cy="516.6" r="9.5" fill="#5aa3f2" fill-opacity="0.92"/>
<circle cx="1163.0" cy="503.0" r="6.0" fill="#5aa3f2" fill-opacity="0.85"/>
<circle cx="1180.0" cy="527.5" r="3.5" fill="#9a6cc8" fill-opacity="0.9"/>
<circle cx="1176.0" cy="543.0" r="0.9" fill="#ef4b8b" fill-opacity="0.9"/>
<circle cx="1131.0" cy="488.5" r="1.8" fill="#2f8ef4" fill-opacity="1"/>
<circle cx="1135.0" cy="486.0" r="2.0" fill="#2f8ef4" fill-opacity="1"/>
<circle cx="1137.0" cy="490.5" r="2.0" fill="#2f8ef4" fill-opacity="1"/>
<circle cx="1144.0" cy="495.0" r="2.4" fill="#2f8ef4" fill-opacity="1"/>
<circle cx="1146.0" cy="486.0" r="2.5" fill="#2f8ef4" fill-opacity="1"/>
<circle cx="1153.0" cy="480.0" r="2.5" fill="#2f8ef4" fill-opacity="1"/>
<circle cx="1158.0" cy="476.0" r="2.2" fill="#2f8ef4" fill-opacity="1"/>
<circle cx="1150.0" cy="455.4" r="1.8" fill="#4a86ae" fill-opacity="0.9"/>
<circle cx="1161.8" cy="454.8" r="1.8" fill="#4a86ae" fill-opacity="0.9"/>
<circle cx="1144.0" cy="462.8" r="1.8" fill="#4a86ae" fill-opacity="0.9"/>
<circle cx="1272.8" cy="463.7" r="1.4" fill="#4a86ae" fill-opacity="0.9"/>
<circle cx="1279.8" cy="461.8" r="1.4" fill="#4a86ae" fill-opacity="0.9"/>
<circle cx="1270.8" cy="470.7" r="1.4" fill="#4a86ae" fill-opacity="0.9"/>
<circle cx="1204.0" cy="443.0" r="1.5" fill="#4a86ae" fill-opacity="0.9"/>
<circle cx="1199.0" cy="444.0" r="1.3" fill="#4a86ae" fill-opacity="0.9"/>
<circle cx="1190.0" cy="455.0" r="1.3" fill="#4a86ae" fill-opacity="0.9"/>
<circle cx="1314.2" cy="434.1" r="0.8" fill="#2f8ef4" fill-opacity="0.75"/>
<circle cx="1327.6" cy="428.6" r="0.9" fill="#2f8ef4" fill-opacity="0.75"/>
<circle cx="1289.2" cy="441.7" r="0.9" fill="#2f8ef4" fill-opacity="0.75"/>
<circle cx="1315.3" cy="435.1" r="0.5" fill="#2f8ef4" fill-opacity="0.75"/>
<circle cx="1307.7" cy="432.2" r="0.7" fill="#2f8ef4" fill-opacity="0.75"/>
<circle cx="1312.1" cy="428.4" r="0.5" fill="#2f8ef4" fill-opacity="0.75"/>
<circle cx="1299.7" cy="441.5" r="0.8" fill="#2f8ef4" fill-opacity="0.75"/>
<circle cx="1294.7" cy="442.5" r="0.5" fill="#2f8ef4" fill-opacity="0.75"/>
<circle cx="1313.9" cy="428.6" r="0.4" fill="#2f8ef4" fill-opacity="0.75"/>
<circle cx="1324.6" cy="425.1" r="0.5" fill="#2f8ef4" fill-opacity="0.75"/>
<circle cx="1329.3" cy="429.2" r="0.5" fill="#2f8ef4" fill-opacity="0.75"/>
<circle cx="1328.4" cy="426.5" r="0.7" fill="#2f8ef4" fill-opacity="0.75"/>
<circle cx="1296.6" cy="443.0" r="0.7" fill="#2f8ef4" fill-opacity="0.75"/>
<circle cx="1328.6" cy="429.6" r="0.5" fill="#2f8ef4" fill-opacity="0.75"/>
<circle cx="1303.2" cy="433.4" r="0.5" fill="#2f8ef4" fill-opacity="0.75"/>
<circle cx="1290.7" cy="439.6" r="0.7" fill="#2f8ef4" fill-opacity="0.75"/>
<circle cx="1288.1" cy="444.0" r="0.6" fill="#2f8ef4" fill-opacity="0.75"/>
<circle cx="1301.0" cy="440.1" r="0.6" fill="#2f8ef4" fill-opacity="0.75"/>
<circle cx="1301.3" cy="437.0" r="0.8" fill="#2f8ef4" fill-opacity="0.75"/>
<circle cx="1290.4" cy="445.8" r="0.4" fill="#2f8ef4" fill-opacity="0.75"/>
<circle cx="1319.5" cy="432.9" r="0.4" fill="#2f8ef4" fill-opacity="0.75"/>
<circle cx="1321.1" cy="427.9" r="0.7" fill="#2f8ef4" fill-opacity="0.75"/>
<circle cx="1288.4" cy="438.3" r="0.5" fill="#2f8ef4" fill-opacity="0.75"/>
<circle cx="1328.1" cy="423.5" r="0.8" fill="#2f8ef4" fill-opacity="0.75"/>
<circle cx="1327.0" cy="430.7" r="0.6" fill="#2f8ef4" fill-opacity="0.75"/>
<circle cx="1302.9" cy="436.7" r="0.8" fill="#2f8ef4" fill-opacity="0.75"/>
<circle cx="1292.5" cy="442.9" r="0.8" fill="#2f8ef4" fill-opacity="0.75"/>
<circle cx="1324.1" cy="423.7" r="0.9" fill="#2f8ef4" fill-opacity="0.75"/>
<circle cx="1291.8" cy="439.5" r="0.7" fill="#2f8ef4" fill-opacity="0.75"/>
<circle cx="1326.6" cy="425.5" r="0.9" fill="#2f8ef4" fill-opacity="0.75"/>
<circle cx="1310.9" cy="431.5" r="0.6" fill="#2f8ef4" fill-opacity="0.75"/>
<circle cx="1295.5" cy="435.7" r="0.5" fill="#2f8ef4" fill-opacity="0.75"/>
<circle cx="1316.9" cy="435.3" r="0.5" fill="#2f8ef4" fill-opacity="0.75"/>
<circle cx="1290.0" cy="446.1" r="0.7" fill="#2f8ef4" fill-opacity="0.75"/>
<circle cx="1305.0" cy="433.2" r="0.7" fill="#2f8ef4" fill-opacity="0.75"/>
<circle cx="1322.7" cy="428.1" r="0.6" fill="#2f8ef4" fill-opacity="0.75"/>
<circle cx="1290.3" cy="445.3" r="0.4" fill="#2f8ef4" fill-opacity="0.75"/>
<circle cx="1308.7" cy="437.2" r="0.5" fill="#2f8ef4" fill-opacity="0.75"/>
<circle cx="1318.7" cy="434.1" r="0.7" fill="#2f8ef4" fill-opacity="0.75"/>
<circle cx="1321.1" cy="425.6" r="0.6" fill="#2f8ef4" fill-opacity="0.75"/>
<circle cx="1294.3" cy="443.1" r="0.5" fill="#2f8ef4" fill-opacity="0.75"/>
<circle cx="1307.0" cy="439.3" r="0.8" fill="#2f8ef4" fill-opacity="0.75"/>
<circle cx="1329.0" cy="425.5" r="0.6" fill="#2f8ef4" fill-opacity="0.75"/>
<circle cx="1318.6" cy="429.9" r="0.5" fill="#2f8ef4" fill-opacity="0.75"/>
<circle cx="1305.0" cy="432.5" r="0.6" fill="#2f8ef4" fill-opacity="0.75"/>
<circle cx="1306.5" cy="451.0" r="0.9" fill="#4a86c0" fill-opacity="0.75"/>
<circle cx="1284.5" cy="458.7" r="0.6" fill="#4a86c0" fill-opacity="0.75"/>
<circle cx="1274.3" cy="468.2" r="1.0" fill="#4a86c0" fill-opacity="0.75"/>
<circle cx="1278.3" cy="465.9" r="1.0" fill="#4a86c0" fill-opacity="0.75"/>
<circle cx="1293.3" cy="456.3" r="1.0" fill="#4a86c0" fill-opacity="0.75"/>
<circle cx="1278.4" cy="465.2" r="0.7" fill="#4a86c0" fill-opacity="0.75"/>
<circle cx="1283.9" cy="462.5" r="0.9" fill="#4a86c0" fill-opacity="0.75"/>
<circle cx="1275.2" cy="468.9" r="0.9" fill="#4a86c0" fill-opacity="0.75"/>
<circle cx="1288.1" cy="454.0" r="0.8" fill="#4a86c0" fill-opacity="0.75"/>
<circle cx="1273.3" cy="467.9" r="0.8" fill="#4a86c0" fill-opacity="0.75"/>
<circle cx="1298.8" cy="452.9" r="1.0" fill="#4a86c0" fill-opacity="0.75"/>
<circle cx="1277.7" cy="465.1" r="0.9" fill="#4a86c0" fill-opacity="0.75"/>
<circle cx="1299.3" cy="450.3" r="1.0" fill="#4a86c0" fill-opacity="0.75"/>
<circle cx="1301.1" cy="451.9" r="1.1" fill="#4a86c0" fill-opacity="0.75"/>
<circle cx="1305.0" cy="448.3" r="0.8" fill="#4a86c0" fill-opacity="0.75"/>
<circle cx="1269.5" cy="471.4" r="1.1" fill="#4a86c0" fill-opacity="0.75"/>
<circle cx="1283.5" cy="462.1" r="0.9" fill="#4a86c0" fill-opacity="0.75"/>
<circle cx="1294.9" cy="451.4" r="1.0" fill="#4a86c0" fill-opacity="0.75"/>
<circle cx="1288.1" cy="459.2" r="0.8" fill="#4a86c0" fill-opacity="0.75"/>
<circle cx="1290.1" cy="459.0" r="0.9" fill="#4a86c0" fill-opacity="0.75"/>
<circle cx="1294.4" cy="450.5" r="0.6" fill="#4a86c0" fill-opacity="0.75"/>
<circle cx="1281.8" cy="462.7" r="0.6" fill="#4a86c0" fill-opacity="0.75"/>
<circle cx="1292.9" cy="456.2" r="0.5" fill="#4a86c0" fill-opacity="0.75"/>
<circle cx="1283.2" cy="458.5" r="0.5" fill="#4a86c0" fill-opacity="0.75"/>
<circle cx="1268.0" cy="468.1" r="0.6" fill="#4a86c0" fill-opacity="0.75"/>
<circle cx="1270.7" cy="464.3" r="0.8" fill="#4a86c0" fill-opacity="0.75"/>
<circle cx="1279.1" cy="464.0" r="0.9" fill="#4a86c0" fill-opacity="0.75"/>
<circle cx="1272.7" cy="470.0" r="0.5" fill="#4a86c0" fill-opacity="0.75"/>
<circle cx="1280.2" cy="460.7" r="0.7" fill="#4a86c0" fill-opacity="0.75"/>
<circle cx="1267.2" cy="472.7" r="0.7" fill="#4a86c0" fill-opacity="0.75"/>
<circle cx="1168.6" cy="511.5" r="0.4" fill="#ef4b8b" fill-opacity="0.6"/>
<circle cx="1219.5" cy="501.9" r="0.6" fill="#ef4b8b" fill-opacity="0.6"/>
<circle cx="1260.8" cy="518.6" r="0.6" fill="#ef4b8b" fill-opacity="0.6"/>
<circle cx="1246.3" cy="512.5" r="0.5" fill="#ef4b8b" fill-opacity="0.6"/>
<circle cx="1179.2" cy="510.9" r="0.6" fill="#ef4b8b" fill-opacity="0.6"/>
<circle cx="1260.7" cy="523.9" r="0.6" fill="#ef4b8b" fill-opacity="0.6"/>
<circle cx="1200.1" cy="521.3" r="0.4" fill="#ef4b8b" fill-opacity="0.6"/>
<circle cx="1175.8" cy="509.8" r="0.6" fill="#ef4b8b" fill-opacity="0.6"/>
<circle cx="1179.1" cy="512.0" r="0.8" fill="#ef4b8b" fill-opacity="0.6"/>
<circle cx="1202.6" cy="505.1" r="0.5" fill="#ef4b8b" fill-opacity="0.6"/>
<circle cx="1194.1" cy="524.0" r="0.6" fill="#ef4b8b" fill-opacity="0.6"/>
<circle cx="1261.1" cy="522.0" r="0.6" fill="#ef4b8b" fill-opacity="0.6"/>
<circle cx="1191.0" cy="524.3" r="0.6" fill="#ef4b8b" fill-opacity="0.6"/>
<circle cx="1206.5" cy="501.2" r="0.8" fill="#ef4b8b" fill-opacity="0.6"/>
<circle cx="1214.2" cy="500.0" r="0.6" fill="#ef4b8b" fill-opacity="0.6"/>
<circle cx="1177.2" cy="511.8" r="0.6" fill="#ef4b8b" fill-opacity="0.6"/>
<circle cx="1194.3" cy="517.4" r="0.7" fill="#ef4b8b" fill-opacity="0.6"/>
<circle cx="1166.3" cy="508.6" r="0.5" fill="#ef4b8b" fill-opacity="0.6"/>
<circle cx="1258.5" cy="517.4" r="0.5" fill="#ef4b8b" fill-opacity="0.6"/>
<circle cx="1191.8" cy="495.4" r="0.8" fill="#ef4b8b" fill-opacity="0.6"/>
<circle cx="1194.3" cy="511.3" r="0.6" fill="#ef4b8b" fill-opacity="0.6"/>
<circle cx="1229.5" cy="511.1" r="0.7" fill="#ef4b8b" fill-opacity="0.6"/>
<circle cx="1176.8" cy="516.6" r="0.5" fill="#ef4b8b" fill-opacity="0.6"/>
<circle cx="1218.3" cy="501.8" r="0.5" fill="#ef4b8b" fill-opacity="0.6"/>
<circle cx="1218.0" cy="506.3" r="0.5" fill="#ef4b8b" fill-opacity="0.6"/>
</g></svg></div>
<div style="position:absolute;left:1308px;top:528px;width:86px;height:40px;background:#1a62dc;border-radius:4px;box-shadow:0 2px 4px rgba(0,0,0,0.25);"></div>
<svg style="position:absolute;left:1321px;top:540px" width="20" height="17" viewBox="0 0 20 17"><ellipse cx="13" cy="10.4" rx="5" ry="4.1" fill="#fff"/><path d="M14.5 13.5 L17 15.4 L11.5 14.2 Z" fill="#fff"/><ellipse cx="7.7" cy="6.4" rx="6" ry="4.6" fill="#1a62dc" stroke="#fff" stroke-width="1.5"/><path d="M3.8 9.9 L2.6 13.2 L6.8 10.9" fill="#1a62dc" stroke="#fff" stroke-width="1.3" stroke-linejoin="round"/><path d="M3.9 9.3 L6.5 10.5" stroke="#1a62dc" stroke-width="1.6"/></svg>
<div class="t" style="left:1343px;top:529px;height:40px;line-height:40px;font-size:16px;font-weight:700;color:#fff;">Help</div>
<svg style="position:absolute;left:581.5px;top:112px" width="14" height="21" viewBox="0 0 14 21"><path d="M2 2 L2 15.6 L5.2 12.7 L7.7 18.9 L10.3 17.8 L7.8 11.8 L12 11.8 Z" fill="#000" stroke="#fff" stroke-width="1.3" stroke-linejoin="round"/></svg>
<div style="position:absolute;left:-2px;top:-2px;width:4px;height:4px;border-radius:2px;background:#555;filter:blur(0.5px);"></div>
<div style="position:absolute;left:1430px;top:-2px;width:4px;height:4px;border-radius:2px;background:#555;filter:blur(0.5px);"></div>
<div style="position:absolute;left:-2px;top:599px;width:4px;height:4px;border-radius:2px;background:#555;filter:blur(0.5px);"></div>
<svg style="position:absolute;left:1424px;top:592px" width="8" height="10" viewBox="0 0 8 10"><path d="M2.5 10 L8 3 L8 10 Z" fill="#111"/></svg>
</body></html>
